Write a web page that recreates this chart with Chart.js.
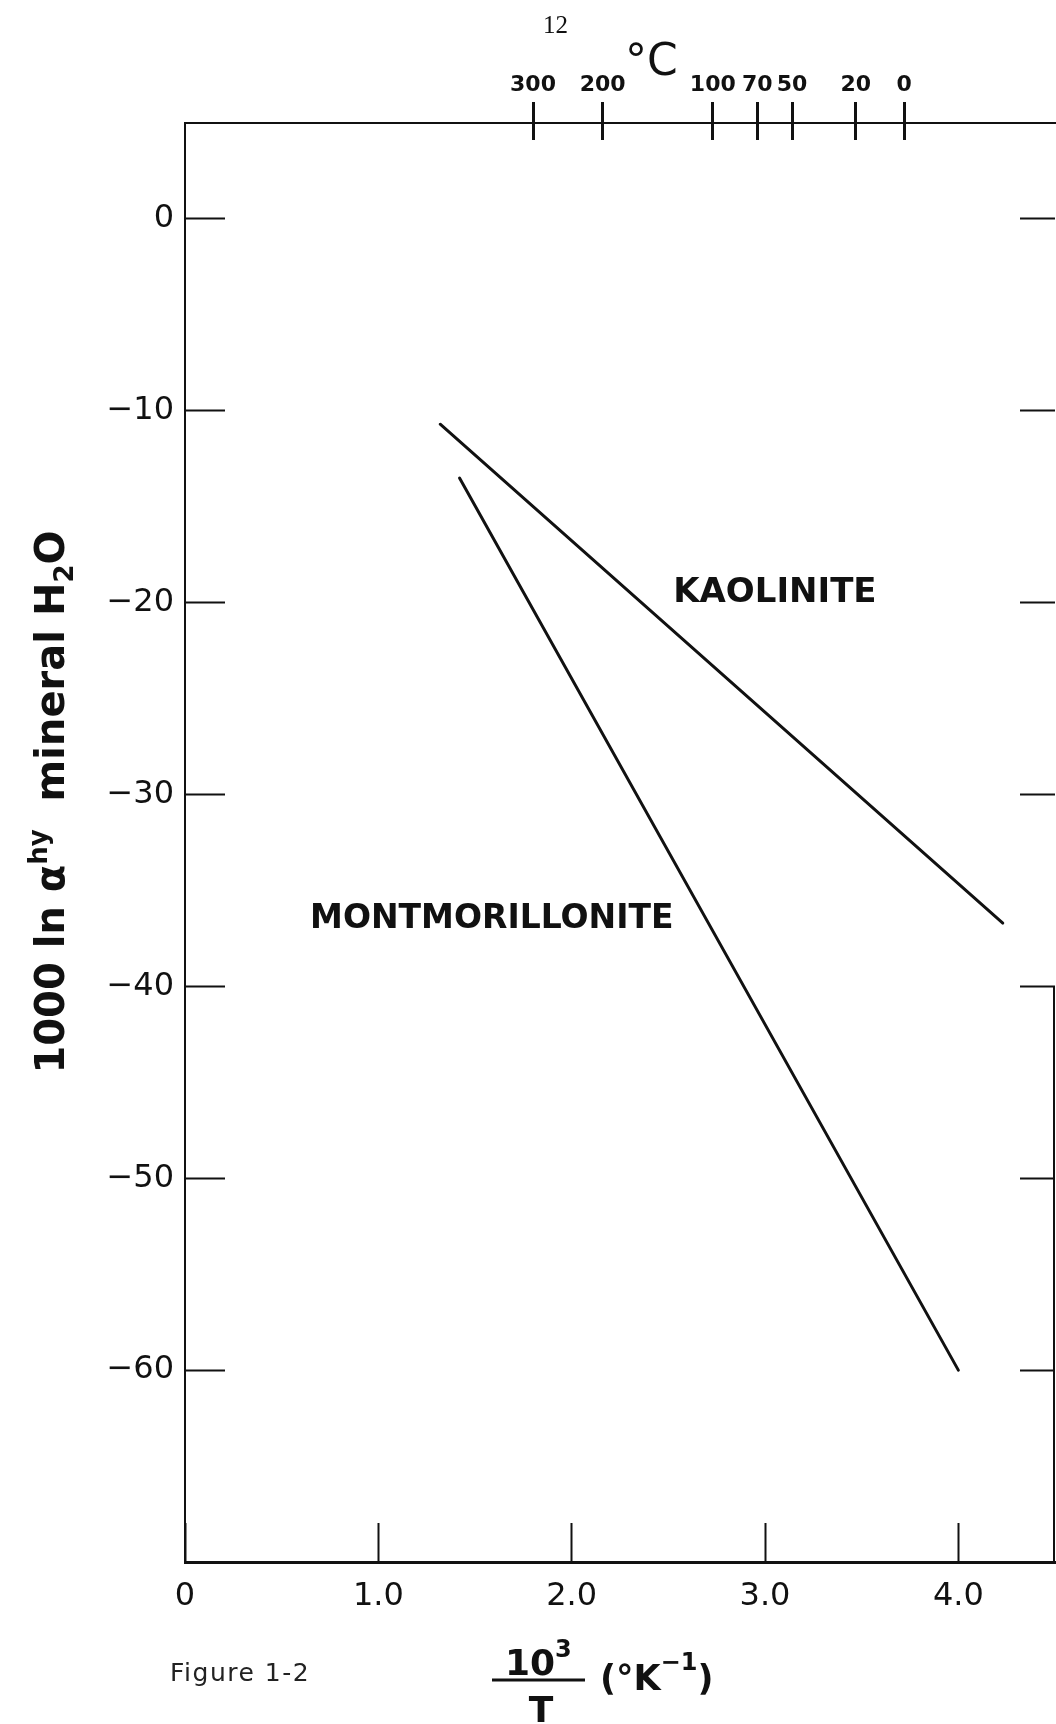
<!DOCTYPE html>
<html>
<head>
<meta charset="utf-8">
<title>Figure 1-2</title>
<script src="https://cdn.jsdelivr.net/npm/chart.js@4.4.1/dist/chart.umd.min.js"></script>
<style>
  html, body { margin: 0; padding: 0; background: #fff; }
  #chart-box { width: 1056px; height: 1724px; }
</style>
</head>
<body>
<div id="chart-box"><canvas id="chart-area" width="1056" height="1724"></canvas></div>
<script>
// values (x = 10^3/T, y = 1000 ln alpha)
var kaoliniteX = [1.32, 4.23];
var kaoliniteY = [-10.7, -36.7];
var montmorilloniteX = [1.42, 4.00];
var montmorilloniteY = [-13.5, -60.0];

// axis ticks
var xTicks = [0, 1, 2, 3, 4];
var xTickLabels = ['0', '1.0', '2.0', '3.0', '4.0'];
var yTicks = [0, -10, -20, -30, -40, -50, -60];
var yTickLabels = ['0', '\u221210', '\u221220', '\u221230', '\u221240', '\u221250', '\u221260'];
// top scale, degrees C placed on the 10^3/T axis
var celsiusTicks = [1.80, 2.16, 2.73, 2.96, 3.14, 3.47, 3.72];
var celsiusLabels = ['300', '200', '100', '70', '50', '20', '0'];

var ink = '#111';
var numFont = '"DejaVu Sans", sans-serif';

function toPoints(xs, ys) {
    return xs.map(function(x, i) { return {x: x, y: ys[i]}; });
}

function setTicks(values) {
    return function(scale) {
        scale.ticks = values.map(function(v) { return {value: v}; });
    };
}

// text pieces drawn one after another (for super/subscripts)
function runsWidth(ctx, runs) {
    var w = 0;
    runs.forEach(function(r) { ctx.font = r.font; w += ctx.measureText(r.text).width; });
    return w;
}
function drawRuns(ctx, runs, x, y) {
    runs.forEach(function(r) {
        ctx.font = r.font;
        ctx.fillText(r.text, x, y + (r.dy || 0));
        x += ctx.measureText(r.text).width;
    });
    return x;
}

var seriesLabels = [
    {text: 'KAOLINITE', x: 2.525, y: -19.94, font: 'bold 34px ' + numFont},
    {text: 'MONTMORILLONITE', x: 0.647, y: -36.95, font: 'bold 33px ' + numFont}
];

var textPlugin = {
    id: 'figureText',
    afterDraw: function(chart) {
        var ctx = chart.ctx;
        var xs = chart.scales.x, ys = chart.scales.y;
        var area = chart.chartArea;
        ctx.save();
        ctx.fillStyle = ink;
        ctx.strokeStyle = ink;
        ctx.textBaseline = 'alphabetic';
        ctx.textAlign = 'left';

        // right frame line, only the lower part shows on the page
        ctx.lineWidth = 2;
        ctx.beginPath();
        ctx.moveTo(area.right - 1, ys.getPixelForValue(-40));
        ctx.lineTo(area.right - 1, area.bottom);
        ctx.stroke();

        seriesLabels.forEach(function(l) {
            ctx.font = l.font;
            ctx.fillText(l.text, xs.getPixelForValue(l.x), ys.getPixelForValue(l.y));
        });

        // page number and top unit
        ctx.font = '25px "Liberation Serif", serif';
        ctx.fillText('12', 543, 33);
        ctx.font = '44px ' + numFont;
        ctx.fillText('\u00b0C', 625, 75);

        // y title, rotated
        var b = 'bold 40px ' + numFont, s = 'bold 26px ' + numFont;
        var yRuns = [
            {text: '1000 ln ', font: b},
            {text: '\u03b1', font: b},
            {text: 'hy', font: s, dy: -17},
            {text: '  mineral H', font: b},
            {text: '2', font: s, dy: 9},
            {text: 'O', font: b}
        ];
        ctx.save();
        ctx.translate(64, 802);
        ctx.rotate(-Math.PI / 2);
        drawRuns(ctx, yRuns, -runsWidth(ctx, yRuns) / 2, 0);
        ctx.restore();

        // x title: 10^3 / T (°K^-1)
        var big = 'bold 36px ' + numFont, sup = 'bold 24px ' + numFont;
        ctx.textAlign = 'left';
        drawRuns(ctx, [{text: '10', font: big}, {text: '3', font: sup, dy: -18}], 505, 1675);
        ctx.lineWidth = 3;
        ctx.beginPath();
        ctx.moveTo(492, 1680);
        ctx.lineTo(585, 1680);
        ctx.stroke();
        ctx.font = big;
        ctx.textAlign = 'center';
        ctx.fillText('T', 541, 1722);
        ctx.textAlign = 'left';
        drawRuns(ctx, [
            {text: '(\u00b0K', font: 'bold 35px ' + numFont},
            {text: '\u22121', font: sup, dy: -20},
            {text: ')', font: 'bold 35px ' + numFont}
        ], 600, 1690);

        ctx.font = '25px ' + numFont;
        ctx.fillStyle = '#222';
        ctx.letterSpacing = '1.5px';
        ctx.fillText('Figure 1-2', 170, 1681);
        ctx.restore();
    }
};

var lineStyle = {
    borderColor: ink,
    borderWidth: 3,
    pointRadius: 0,
    borderCapStyle: 'round',
    fill: false
};

var config = {
    type: 'line',
    data: {
        datasets: [
            Object.assign({label: 'Kaolinite', data: toPoints(kaoliniteX, kaoliniteY)}, lineStyle),
            Object.assign({label: 'Montmorillonite', data: toPoints(montmorilloniteX, montmorilloniteY)}, lineStyle)
        ]
    },
    options: {
        responsive: false,
        animation: false,
        devicePixelRatio: 1,
        layout: {padding: 0},
        plugins: {legend: {display: false}, tooltip: {enabled: false}, title: {display: false}},
        scales: {
            x: {
                type: 'linear', position: 'bottom', min: 0, max: 4.5,
                afterBuildTicks: setTicks(xTicks),
                afterFit: function(s) { s.height = 162; },
                border: {display: true, color: ink, width: 3},
                grid: {drawOnChartArea: false, tickLength: -39, tickColor: ink, tickWidth: 2},
                ticks: {
                    color: ink, font: {family: numFont, size: 32}, padding: 54,
                    maxRotation: 0, minRotation: 0, autoSkip: false,
                    callback: function(v, i) { return xTickLabels[i]; }
                }
            },
            x2: {
                type: 'linear', position: 'top', min: 0, max: 4.5, weight: 2,
                afterBuildTicks: setTicks(celsiusTicks),
                afterFit: function(s) { s.height = 123; },
                border: {display: true, color: ink, width: 2},
                grid: {drawOnChartArea: false, tickLength: 21, tickColor: ink, tickWidth: 3},
                ticks: {
                    color: ink, font: {family: numFont, size: 22, weight: 'bold'}, padding: 4,
                    maxRotation: 0, minRotation: 0, autoSkip: false,
                    callback: function(v, i) { return celsiusLabels[i]; }
                }
            },
            // lower half of the crossing top tick marks
            x3: {
                type: 'linear', position: 'top', min: 0, max: 4.5, weight: 1,
                afterBuildTicks: setTicks(celsiusTicks),
                afterFit: function(s) { s.height = 0; },
                border: {display: false},
                grid: {drawOnChartArea: false, tickLength: -17, tickColor: ink, tickWidth: 3},
                ticks: {display: false}
            },
            y: {
                type: 'linear', position: 'left', min: -70, max: 5,
                afterBuildTicks: setTicks(yTicks),
                afterFit: function(s) { s.width = 185; },
                border: {display: true, color: ink, width: 2},
                grid: {drawOnChartArea: false, tickLength: -40, tickColor: ink, tickWidth: 2},
                ticks: {
                    color: ink, font: {family: numFont, size: 32}, padding: 51,
                    autoSkip: false,
                    callback: function(v, i) { return yTickLabels[i]; }
                }
            },
            y2: {
                type: 'linear', position: 'right', min: -70, max: 5,
                afterBuildTicks: setTicks(yTicks),
                afterFit: function(s) { s.width = 1; },
                border: {display: false},
                grid: {drawOnChartArea: false, tickLength: -35, tickColor: ink, tickWidth: 2},
                ticks: {display: false}
            }
        }
    },
    plugins: [textPlugin]
};

var ctx = document.getElementById('chart-area').getContext('2d');
var chart = new Chart(ctx, config);
</script>
</body>
</html>
